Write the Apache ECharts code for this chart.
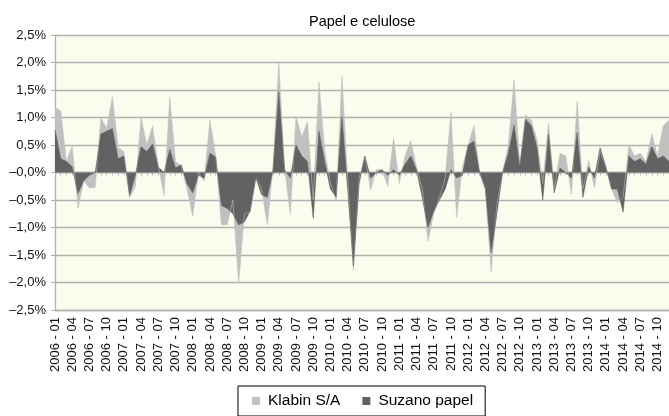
<!DOCTYPE html>
<html>
<head>
<meta charset="utf-8">
<script src="https://cdn.jsdelivr.net/npm/echarts@6/dist/echarts.min.js"></script>
<style>
html,body{margin:0;padding:0;background:#fff;}
#chart{width:669px;height:416px;}
</style>
</head>
<body>
<div id="chart"></div>
<script>
// Monthly categories 2006-01 .. 2014-12
const years = [2006, 2007, 2008, 2009, 2010, 2011, 2012, 2013, 2014];
const months = ['01','02','03','04','05','06','07','08','09','10','11','12'];
const categories = [];
years.forEach(function (y) { months.forEach(function (m) { categories.push(y + ' - ' + m); }); });

const yTickLabels = ['–2,5%','–2,0%','–1,5%','–1,0%','–0,5%','–0,0%','0,5%','1,0%','1,5%','2,0%','2,5%'];

const klabin = [
  1.18, 1.12, 0.2, 0.48, -0.65, -0.15, -0.28, -0.27, 1.0, 0.8, 1.38, 0.45,
  0.38, -0.46, -0.25, 1.0, 0.5, 0.85, 0.12, -0.42, 1.37, 0.2, 0.12, -0.3,
  -0.79, 0.0, -0.15, 0.95, 0.3, -0.95, -0.95, -0.5, -2.02, -0.75, -0.72, -0.1,
  -0.3, -0.95, 0.1, 2.0, 0.1, -0.77, 1.02, 0.65, 0.92, -0.5, 1.65, 0.4,
  -0.2, -0.5, 1.75, -0.1, -1.78, -0.1, 0.3, -0.32, 0.05, 0.05, -0.25, 0.63,
  -0.2, 0.3, 0.58, 0.1, -0.3, -1.25, -0.75, -0.45, -0.1, 1.1, -0.82, 0.1,
  0.5, 0.85, 0.0, -0.3, -1.82, -0.6, 0.0, 0.5, 1.68, 0.15, 1.05, 0.95,
  0.6, -0.2, 0.9, -0.3, 0.35, 0.3, -0.4, 1.3, -0.3, 0.22, -0.28, 0.4,
  0.1, -0.3, -0.55, -0.45, 0.5, 0.3, 0.35, 0.2, 0.7, 0.3, 0.85, 0.95
];
const suzano = [
  0.78, 0.25, 0.2, 0.1, -0.38, -0.15, -0.05, 0.0, 0.7, 0.75, 0.8, 0.25,
  0.3, -0.42, -0.05, 0.47, 0.38, 0.52, 0.1, 0.0, 0.42, 0.08, 0.14, -0.2,
  -0.37, -0.05, -0.1, 0.35, 0.28, -0.6, -0.65, -0.75, -0.95, -0.9, -0.7, -0.1,
  -0.4, -0.45, 0.05, 1.47, 0.05, -0.1, 0.5, 0.3, 0.2, -0.83, 0.75, 0.2,
  -0.3, -0.45, 1.02, -0.3, -1.7, -0.2, 0.3, -0.1, 0.0, 0.05, -0.05, 0.05,
  -0.05, 0.15, 0.3, 0.05, -0.45, -1.0, -0.7, -0.5, -0.3, 0.05, -0.1, -0.05,
  0.5, 0.57, 0.0, -0.3, -1.45, -0.75, 0.0, 0.35, 0.86, 0.1, 0.97, 0.85,
  0.45, -0.5, 0.7, -0.37, 0.08, 0.0, -0.1, 0.73, -0.45, 0.1, -0.1, 0.45,
  0.1, -0.3, -0.3, -0.72, 0.3, 0.2, 0.25, 0.15, 0.47, 0.25, 0.3, 0.2
];

const FONT = '"Liberation Sans", Arial, Helvetica, sans-serif';
const chart = echarts.init(document.getElementById('chart'), null, {renderer: 'canvas'});
chart.setOption({
  animation: false,
  backgroundColor: '#ffffff',
  title: {
    text: 'Papel e celulose',
    left: 309, top: 14, padding: 0,
    textStyle: {fontFamily: FONT, fontSize: 14.5, fontWeight: 'normal', color: '#000'}
  },
  legend: {
    data: ['Klabin S/A', 'Suzano papel'],
    left: 238, top: 386,
    padding: [7, 12, 7, 14],
    itemWidth: 8, itemHeight: 8, itemGap: 22,
    borderColor: '#000', borderWidth: 1,
    icon: 'rect',
    textStyle: {fontFamily: FONT, fontSize: 15.5, color: '#000', padding: [0, 0, 0, 3]}
  },
  grid: {
    left: 55, top: 35, width: 617, height: 275,
    show: true, backgroundColor: '#fcfcee', borderWidth: 0
  },
  xAxis: [{
    type: 'category', data: categories, boundaryGap: false, position: 'bottom',
    axisLine: {show: true, onZero: false, lineStyle: {color: '#b0b0b0', width: 1.3}},
    axisTick: {show: false},
    axisLabel: {interval: 2, rotate: 90, margin: 7, fontFamily: FONT, fontSize: 13, color: '#111'},
    splitLine: {show: false}
  }, {
    type: 'category', data: categories, boundaryGap: false, position: 'top',
    axisLine: {show: true, onZero: true, lineStyle: {color: '#b0b0b0', width: 1.3}},
    axisTick: {show: true, inside: true, length: 3, interval: 0, lineStyle: {color: '#b8b8b8', width: 1}},
    axisLabel: {show: false},
    splitLine: {show: false}
  }],
  yAxis: {
    type: 'value', min: -2.5, max: 2.5, interval: 0.5,
    axisLine: {show: true, lineStyle: {color: '#b0b0b0', width: 1.3}},
    axisTick: {show: true, length: 4, lineStyle: {color: '#b0b0b0'}},
    axisLabel: {
      margin: 9, fontFamily: FONT, fontSize: 13, color: '#111',
      formatter: function (v) { return yTickLabels[Math.round((v + 2.5) / 0.5)]; }
    },
    splitLine: {show: true, lineStyle: {color: '#b0b0b0', width: 1.3}}
  },
  series: [{
    name: 'Klabin S/A', type: 'line', data: klabin, xAxisIndex: 0,
    symbol: 'none', color: '#c0c0c0',
    lineStyle: {width: 0.6, color: '#c0c0c0'},
    areaStyle: {color: '#c0c0c0', opacity: 1, origin: 0}
  }, {
    name: 'Suzano papel', type: 'line', data: suzano, xAxisIndex: 0,
    symbol: 'none', color: '#626262',
    lineStyle: {width: 0.6, color: '#626262'},
    areaStyle: {color: '#626262', opacity: 1, origin: 0}
  }]
});
</script>
</body>
</html>
